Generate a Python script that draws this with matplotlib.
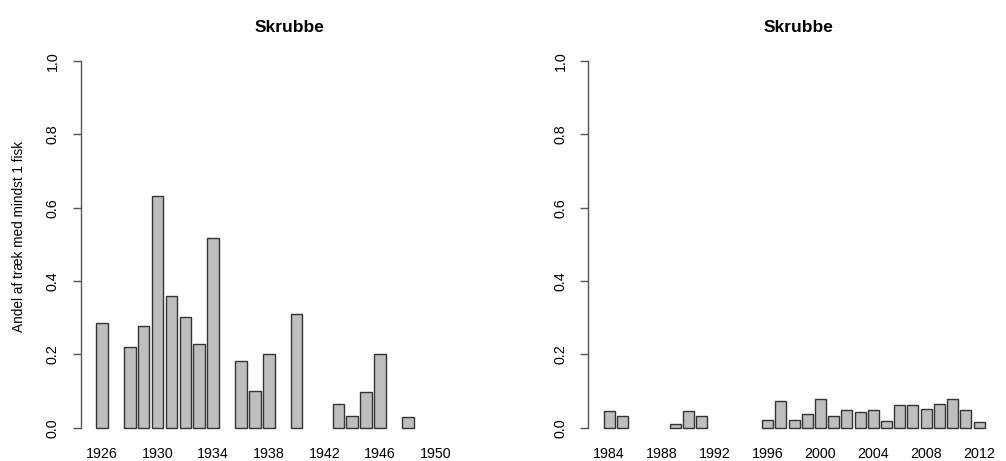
import numpy as np
import matplotlib as mpl
from matplotlib import pyplot as plt

mpl.rcParams['font.family'] = ['Liberation Sans', 'DejaVu Sans']

nan = np.nan

# first period, 1926-1953 (NaN = no survey that year)
years_early = list(range(1926, 1954))
share_early = [0.286, nan, 0.219, 0.278, 0.632, 0.359, 0.301, 0.228, 0.517, nan,
               0.182, 0.100, 0.201, nan, 0.310, nan, nan, 0.065, 0.033, 0.097,
               0.201, nan, 0.029, nan, nan, nan, nan, nan]

# second period, 1984-2012
years_late = list(range(1984, 2013))
share_late = [0.045, 0.033, nan, nan, nan, 0.011, 0.045, 0.032, nan, nan,
              nan, nan, 0.021, 0.074, 0.021, 0.038, 0.078, 0.032, 0.049, 0.042,
              0.049, 0.018, 0.061, 0.061, 0.051, 0.064, 0.079, 0.049, 0.016]

title = "Skrubbe"
ylabel = "Andel af træk med mindst 1 fisk"
yticks = [0.0, 0.2, 0.4, 0.6, 0.8, 1.0]


def barplot(ax, years, values, label_step=4, title_x=0.5):
    # R style barplot: width 1, space 0.2
    n = len(years)
    x = 0.7 + 1.2 * np.arange(n)
    ax.bar(x, values, width=1.0, color='#bebebe', edgecolor='#333333', linewidth=1.0)

    span = 1.2 * n - 0.2
    ax.set_xlim(0.2 - 0.04 * span, 1.2 * n + 0.04 * span)
    ax.set_ylim(-0.04, 1.04)

    for side in ['top', 'right', 'bottom']:
        ax.spines[side].set_visible(False)
    ax.spines['left'].set_bounds(0, 1)
    ax.spines['left'].set_color('#555555')
    ax.spines['left'].set_linewidth(1.0)

    ax.set_yticks(yticks, [f"{v:.1f}" for v in yticks], rotation=90, va='center')
    ax.tick_params(axis='y', length=6, width=1.0, color='#555555', pad=9, labelsize=10.3)

    idx = list(range(0, n, label_step))
    ax.set_xticks(x[idx], [str(years[i]) for i in idx])
    ax.tick_params(axis='x', length=0, pad=3.5, labelsize=10.3)

    ax.set_title(title, fontsize=12.5, fontweight='bold', pad=10, x=title_x)


fig = plt.figure(figsize=(10.06, 4.61), dpi=100, facecolor='white')
ax1 = fig.add_axes([0.0802, 0.0403, 0.4155, 0.8593])
ax2 = fig.add_axes([0.5848, 0.0403, 0.4090, 0.8593])

barplot(ax1, years_early, share_early)
barplot(ax2, years_late, share_late, title_x=0.51)

ax1.set_ylabel(ylabel, fontsize=9.8)
ax1.yaxis.set_label_coords(-0.131, 0.52)

fig.savefig('out.png', dpi=100)
